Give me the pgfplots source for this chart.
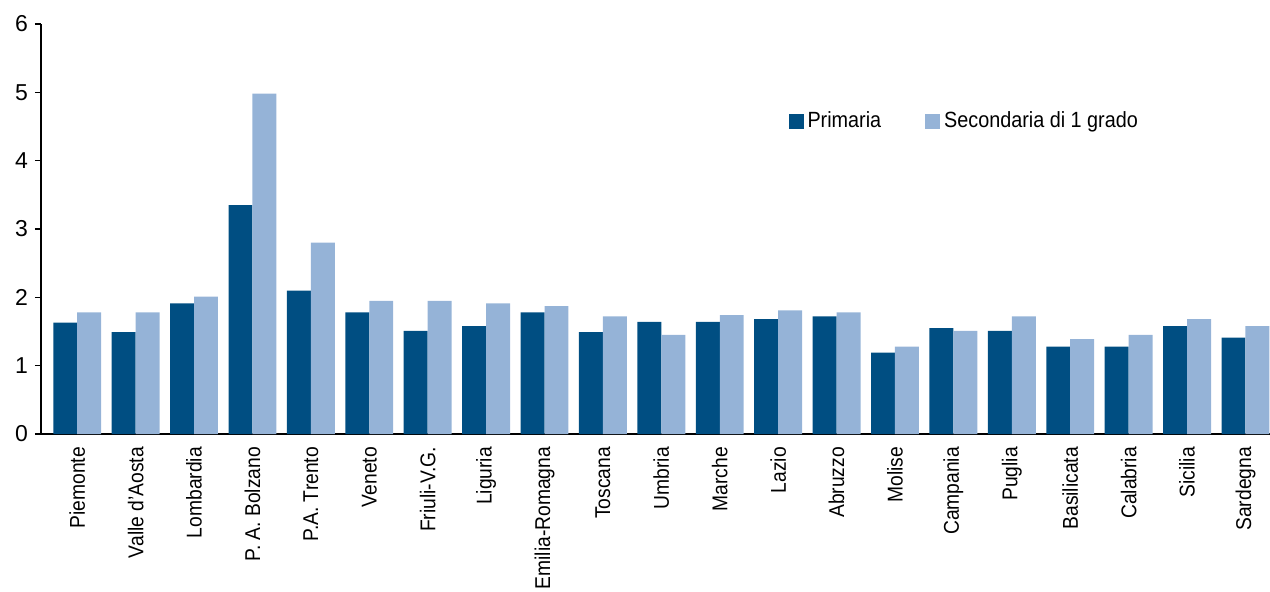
\documentclass[border=0pt]{standalone}
\usepackage{fontspec}
\setmainfont[FakeStretch=0.9]{Liberation Sans}
\newfontfamily\widefont{Liberation Sans}
\usepackage{pgfplots}
\pgfplotsset{compat=1.18}
\definecolor{darkb}{RGB}{0,78,130}
\definecolor{lightb}{RGB}{149,179,215}
\begin{document}
\begin{tikzpicture}
\begin{axis}[
  at={(0,0)}, anchor=south west,
  scale only axis, width=614.5bp, height=205bp,
  xmin=-0.62, xmax=20.42, ymin=0, ymax=6,
  ybar, bar width=0.41,
  ytick={0,1,2,3,4,5,6},
  xtick={0,...,20},
  xticklabels={Piemonte,Valle d'Aosta,Lombardia,P. A. Bolzano,P.A. Trento,Veneto,Friuli-V.G.,Liguria,Emilia-Romagna,Toscana,Umbria,Marche,Lazio,Abruzzo,Molise,Campania,Puglia,Basilicata,Calabria,Sicilia,Sardegna},
  xticklabel style={rotate=90, anchor=east, font=\fontsize{10.7bp}{12bp}\selectfont},
  yticklabel style={font=\widefont\fontsize{11.5bp}{13bp}\selectfont},
  /pgf/number format/assume math mode=true,
  axis x line=bottom, axis y line=left,
  axis line style={line width=1bp, -, black},
  tick align=outside, major tick length=3bp,
  ytick style={black, line width=0.8bp},
  xtick style={draw=none},
  legend style={at={(0.752,0.763)}, anchor=center, draw=none, fill=none,
    font=\fontsize{11bp}{12bp}\selectfont, legend columns=2,
    /tikz/every even column/.append style={column sep=20bp}},
  legend image code/.code={\fill[#1] (0bp,-3.75bp) rectangle (7.5bp,3.75bp);},
]
\addplot[fill=darkb, draw=none, bar shift=-0.205] coordinates {
(0,1.63) (1,1.49) (2,1.91) (3,3.35) (4,2.10) (5,1.78) (6,1.51) (7,1.58) (8,1.78) (9,1.49) (10,1.64)
(11,1.64) (12,1.68) (13,1.72) (14,1.19) (15,1.55) (16,1.51) (17,1.28) (18,1.28) (19,1.58) (20,1.41)};
\addlegendentry{Primaria}
\addplot[fill=lightb, draw=none, bar shift=0.205] coordinates {
(0,1.78) (1,1.78) (2,2.01) (3,4.98) (4,2.80) (5,1.95) (6,1.95) (7,1.91) (8,1.87) (9,1.72) (10,1.45)
(11,1.74) (12,1.81) (13,1.78) (14,1.28) (15,1.51) (16,1.72) (17,1.39) (18,1.45) (19,1.68) (20,1.58)};
\addlegendentry{Secondaria di 1 grado}
\end{axis}
\pgfresetboundingbox
\path[use as bounding box] (-20.5bp,-79bp) rectangle (614.5bp,217bp);
\end{tikzpicture}
\end{document}
